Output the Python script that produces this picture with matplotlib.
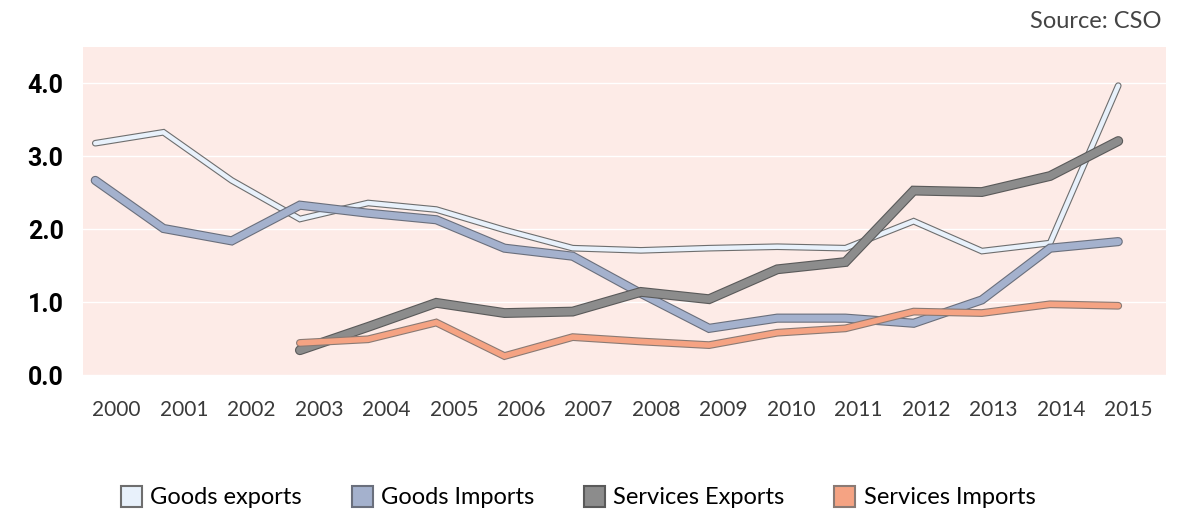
import numpy as np
import matplotlib
matplotlib.use("Agg")
import matplotlib.pyplot as plt
import matplotlib.patheffects as pe
from matplotlib.patches import Patch

years = [str(y) for y in range(2000, 2016)]

goods_exports = [3.18, 3.33, 2.67, 2.14, 2.36, 2.27, 1.99, 1.74, 1.71, 1.74, 1.76, 1.74, 2.11, 1.70, 1.81, 3.97]
goods_imports = [2.67, 2.01, 1.84, 2.33, 2.22, 2.13, 1.74, 1.63, 1.12, 0.64, 0.78, 0.78, 0.71, 1.03, 1.74, 1.83]
# services series start in 2003
services_exports = [0.34, 0.66, 0.99, 0.85, 0.87, 1.14, 1.04, 1.45, 1.55, 2.53, 2.51, 2.73, 3.21]
services_imports = [0.44, 0.49, 0.72, 0.26, 0.52, 0.46, 0.41, 0.58, 0.64, 0.87, 0.85, 0.97, 0.95]

labels = ["Goods exports", "Goods Imports", "Services Exports", "Services Imports"]
colors = ["#e8f1fb", "#a4b1cd", "#8c8c8c", "#f5a383"]
edges = ["#6e6e6e", "#6a6f7c", "#5a5a5a", "#8a7a74"]
widths = [3.2, 5.0, 5.5, 4.0]

fig = plt.figure(figsize=(11.92, 5.11), dpi=100)
ax = fig.add_axes([83/1192, 1-375/511, (1166-83)/1192, (375-47)/511])
ax.set_facecolor("#fdebe7")

x_all = np.arange(len(years))
x_serv = np.arange(3, len(years))
series = [(x_all, goods_exports), (x_all, goods_imports), (x_serv, services_exports), (x_serv, services_imports)]

for i, (xs, ys) in enumerate(series):
    ax.plot(xs, ys, color=colors[i], lw=widths[i], solid_capstyle="round", solid_joinstyle="miter",
            path_effects=[pe.Stroke(linewidth=widths[i] + 1.6, foreground=edges[i]), pe.Normal()],
            zorder=3)

ax.set_xlim(-0.18, 15.7)
ax.set_ylim(0, 4.5)
ax.set_yticks([0, 1, 2, 3, 4])
ax.set_yticklabels(["0.0", "1.0", "2.0", "3.0", "4.0"], fontsize=18, fontweight="bold",
                   family=["Roboto", "DejaVu Sans"])
ax.set_xticks(np.linspace(0.31, 15.15, len(years)))
ax.set_xticklabels(years, fontsize=15, color="#3a3a3a", family=["Lato", "DejaVu Sans"])
ax.tick_params(length=0)
ax.tick_params(axis="x", pad=18)
ax.tick_params(axis="y", pad=14)
ax.grid(axis="y", color="white", lw=1)
ax.set_axisbelow(True)
for s in ax.spines.values():
    s.set_visible(False)

fig.text(1162/1192, 1-22/511, "Source: CSO", ha="right", va="center", fontsize=17,
         color="#444444", family=["Lato", "DejaVu Sans"])

handles = [Patch(facecolor=colors[i], edgecolor=edges[i], lw=1.5) for i in range(4)]
fig.legend(handles, labels, loc="center", bbox_to_anchor=(0.485, 1-497/511), ncol=4, frameon=False,
           prop={"family": ["Lato", "DejaVu Sans"], "size": 17},
           handlelength=0.9, handleheight=1.0, handletextpad=0.35, columnspacing=2.1)

fig.savefig("out.png", dpi=100)
